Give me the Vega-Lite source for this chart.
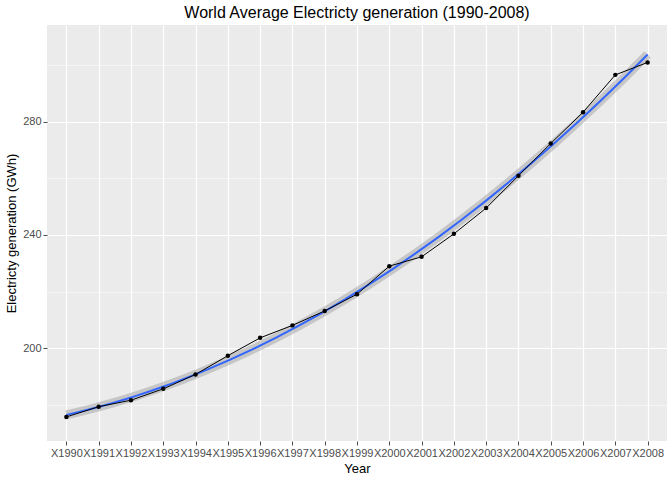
{
  "$schema": "https://vega.github.io/schema/vega-lite/v6.json",
  "width": 672,
  "height": 480,
  "autosize": {"type": "fit", "contains": "padding"},
  "background": "white",
  "title": {"text": "World Average Electricty generation (1990-2008)", "fontSize": 16, "font": "Liberation Sans", "fontWeight": "normal", "color": "black", "anchor": "middle"},
  "config": {
    "view": {"fill": "#EBEBEB", "stroke": null},
    "axis": {"font": "Liberation Sans", "labelFont": "Liberation Sans", "titleFont": "Liberation Sans", "labelColor": "#4D4D4D", "labelFontSize": 11, "titleFontSize": 13, "titleFontWeight": "normal", "titleColor": "black", "gridColor": "white", "domain": false, "tickColor": "#4D4D4D", "tickSize": 4}
  },
  "data": {"values": [
    {"yr": 1990, "gen": 175.8}, {"yr": 1991, "gen": 179.4}, {"yr": 1992, "gen": 181.7},
    {"yr": 1993, "gen": 185.7}, {"yr": 1994, "gen": 190.8}, {"yr": 1995, "gen": 197.4},
    {"yr": 1996, "gen": 203.7}, {"yr": 1997, "gen": 208.1}, {"yr": 1998, "gen": 213.2},
    {"yr": 1999, "gen": 219.1}, {"yr": 2000, "gen": 229.0}, {"yr": 2001, "gen": 232.3},
    {"yr": 2002, "gen": 240.4}, {"yr": 2003, "gen": 249.5}, {"yr": 2004, "gen": 260.9},
    {"yr": 2005, "gen": 272.3}, {"yr": 2006, "gen": 283.3}, {"yr": 2007, "gen": 296.5},
    {"yr": 2008, "gen": 300.9}
  ]},
  "encoding": {
    "x": {"field": "yr", "type": "quantitative", "title": "Year",
      "scale": {"domain": [1989.4, 2008.6], "nice": false, "zero": false},
      "axis": {"values": [1990,1991,1992,1993,1994,1995,1996,1997,1998,1999,2000,2001,2002,2003,2004,2005,2006,2007,2008], "labelExpr": "'X' + datum.value", "format": "d", "gridWidth": 1.2, "labelOverlap": false, "labelPadding": 2}},
    "y": {"field": "gen", "type": "quantitative", "title": "Electricty generation (GWh)",
      "scale": {"domain": [167.3, 314.1], "nice": false, "zero": false},
      "axis": {"values": [180, 200, 220, 240, 260, 280, 300], "labelExpr": "datum.value % 40 == 0 ? datum.label : ''",
        "gridWidth": {"condition": {"test": "datum.value % 40 == 0", "value": 1.2}, "value": 0.5},
        "tickSize": {"condition": {"test": "datum.value % 40 == 0", "value": 4}, "value": 0}}}
  },
  "layer": [
    {"transform": [{"regression": "gen", "on": "yr", "method": "poly", "order": 2}],
     "mark": {"type": "line", "color": "#999999", "opacity": 0.45, "strokeWidth": 9}},
    {"transform": [{"regression": "gen", "on": "yr", "method": "poly", "order": 2}],
     "mark": {"type": "line", "color": "#3366FF", "strokeWidth": 2}},
    {"mark": {"type": "line", "color": "black", "strokeWidth": 1}},
    {"mark": {"type": "point", "filled": true, "color": "black", "size": 20, "opacity": 1}}
  ]
}
